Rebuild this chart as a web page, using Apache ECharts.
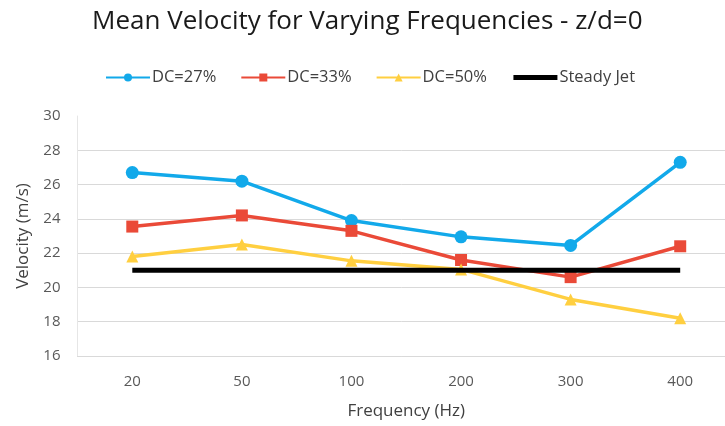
<!DOCTYPE html>
<html>
<head>
<meta charset="utf-8">
<script src="https://cdn.jsdelivr.net/npm/echarts@6/dist/echarts.min.js"></script>
<style>
  html, body { margin: 0; padding: 0; background: #fff; }
  #chart { width: 725px; height: 426px; }
</style>
</head>
<body>
<div id="chart"></div>
<script>
// Pulse frequencies (Hz)
const frequencies = ['20', '50', '100', '200', '300', '400'];
// Mean velocity (m/s) at z/d = 0 for each duty cycle
const dc27 = [26.7, 26.2, 23.9, 22.95, 22.45, 27.3];
const dc33 = [23.55, 24.2, 23.3, 21.6, 20.6, 22.4];
const dc50 = [21.8, 22.5, 21.55, 21.05, 19.3, 18.2];
const steadyJet = [21.0, 21.0, 21.0, 21.0, 21.0, 21.0];

const FONT = 'Open Sans';
const chart = echarts.init(document.getElementById('chart'));

function lineSeries(name, data, color, symbol, size) {
  return {
    name: name,
    type: 'line',
    data: data,
    symbol: symbol,
    symbolSize: size,
    showSymbol: symbol !== 'none',
    lineStyle: { color: color, width: 3.5 },
    itemStyle: { color: color },
    emphasis: { disabled: true },
    z: 3
  };
}

chart.setOption({
  animation: false,
  backgroundColor: '#ffffff',
  textStyle: { fontFamily: FONT },
  title: {
    text: 'Mean Velocity for Varying Frequencies - z/d=0',
    left: 87,
    top: 4,
    textStyle: { fontFamily: FONT, fontSize: 26, fontWeight: 'normal', color: '#1a1a1a' }
  },
  legend: {
    top: 64,
    left: 100,
    itemWidth: 44,
    itemHeight: 10,
    itemGap: 24,
    textStyle: { fontFamily: FONT, fontSize: 16.5, color: '#404040', padding: [0, 0, 0, -3] },
    data: [
      'DC=27%', 'DC=33%', 'DC=50%',
      { name: 'Steady Jet', itemStyle: { opacity: 0 }, lineStyle: { width: 5 } }
    ]
  },
  grid: {
    left: 77.5, right: -10, top: 116, bottom: 70,
    containLabel: false,
    outerBoundsMode: 'none'
  },
  xAxis: {
    type: 'category',
    data: frequencies,
    boundaryGap: true,
    name: 'Frequency (Hz)',
    nameLocation: 'middle',
    nameGap: 47,
    nameTextStyle: { fontFamily: FONT, fontSize: 17, color: '#404040' },
    axisLine: { show: true, lineStyle: { color: '#d9d9d9', width: 1 } },
    axisTick: { show: false },
    axisLabel: { fontFamily: FONT, fontSize: 15, color: '#595959', margin: 18 }
  },
  yAxis: {
    type: 'value',
    min: 16,
    max: 30,
    interval: 2,
    name: 'Velocity (m/s)',
    nameLocation: 'middle',
    nameGap: 46,
    nameTextStyle: { fontFamily: FONT, fontSize: 17, color: '#404040' },
    axisLine: { show: true, lineStyle: { color: '#e6e6e6', width: 1 } },
    axisTick: { show: false },
    axisLabel: { fontFamily: FONT, fontSize: 15, color: '#595959', margin: 17 },
    splitLine: { show: true, showMaxLine: false, lineStyle: { color: '#d9d9d9', width: 1 } }
  },
  series: [
    lineSeries('DC=27%', dc27, '#12a9ea', 'circle', 13),
    lineSeries('DC=33%', dc33, '#ea4a38', 'rect', 12),
    lineSeries('DC=50%', dc50, '#ffcf40', 'triangle', 12),
    Object.assign(lineSeries('Steady Jet', steadyJet, '#000000', 'none', 0), {
      lineStyle: { color: '#000000', width: 5 }, z: 4
    })
  ]
});
</script>
</body>
</html>
